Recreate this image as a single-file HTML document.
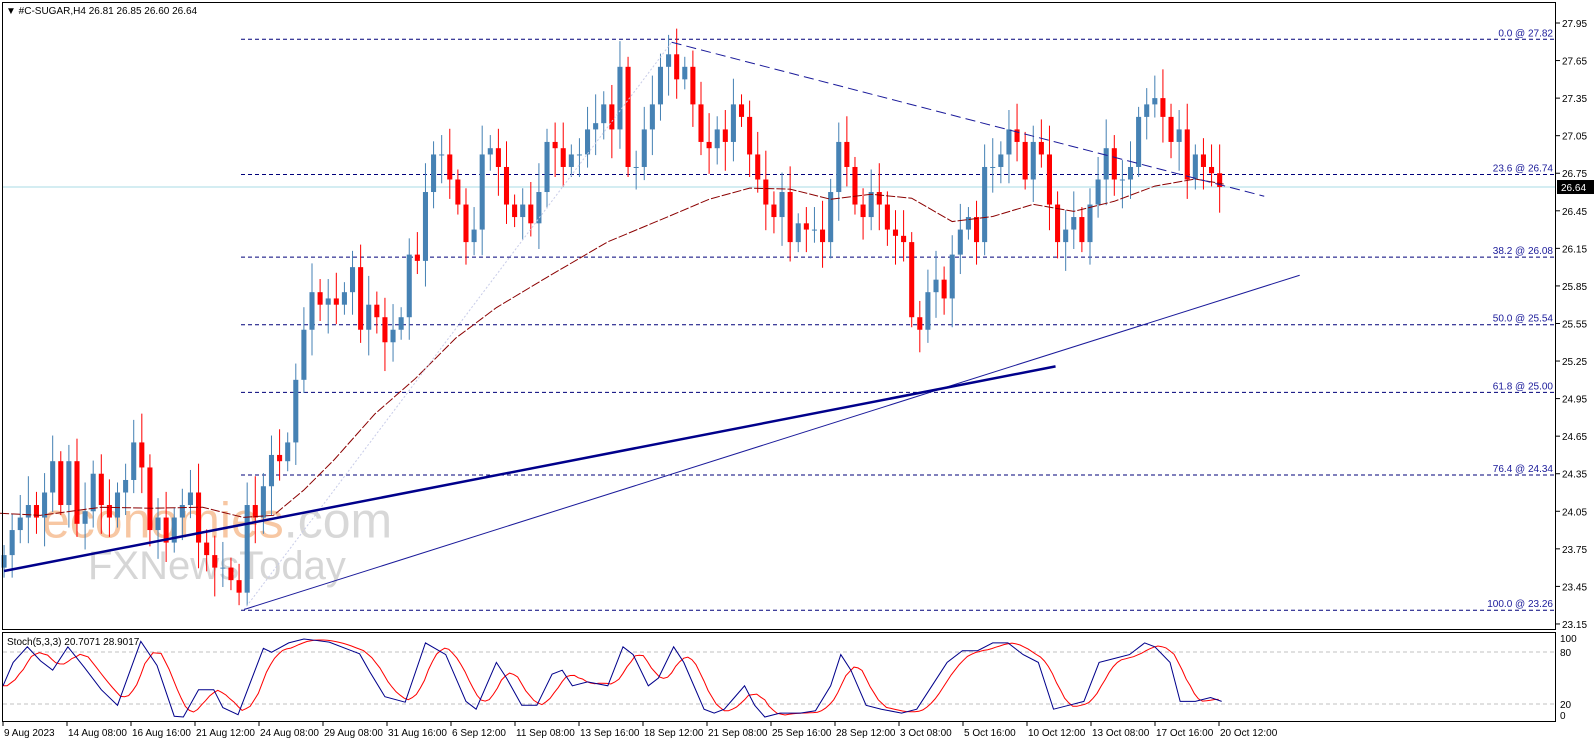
<!DOCTYPE html>
<html><head><meta charset="utf-8"><style>
html,body{margin:0;padding:0;background:#fff;}
svg{display:block;font-family:"Liberation Sans",sans-serif;}
</style></head><body>
<svg id="s" width="1596" height="743" xmlns="http://www.w3.org/2000/svg"></svg>
<script>
const S=document.getElementById('s');let h='';
const Y=p=>23+(27.95-p)*125.2;
const R=y=>23+(y-19)*1.013;
const SY=v=>717-v*0.78;
h+='<rect x="0" y="0" width="1596" height="743" fill="#fff"/>';
h+='<text x="42" y="'+R(527)+'" font-size="50" fill="#f7c29a" opacity="0.9">economies<tspan fill="#d4d4d4">.com</tspan></text>';
h+='<text x="88" y="'+R(568)+'" font-size="40" fill="#d2d2d2" opacity="0.9">FXNewsToday</text>';
const fib=[[0.0,27.82],[23.6,26.74],[38.2,26.08],[50.0,25.54],[61.8,25.00],[76.4,24.34],[100.0,23.26]];
fib.forEach(f=>{const y=Y(f[1]);h+=`<line x1="241" y1="${y}" x2="1555" y2="${y}" stroke="#00007a" stroke-dasharray="4,3" stroke-width="1"/>`;
h+=`<text x="1553" y="${y-3}" font-size="10" fill="#1a1a9a" text-anchor="end">${f[0].toFixed(1)} @ ${f[1].toFixed(2)}</text>`;});
h+=`<line x1="3" y1="${Y(26.64)}" x2="1555" y2="${Y(26.64)}" stroke="#a8dbe6" stroke-width="1"/>`;
h+='<g transform="scale(1.013,1)">';
const C=[23.7,23.9,24.0,24.1,24.0,24.2,24.45,24.1,24.45,23.95,24.05,24.35,24.1,24.0,24.2,24.3,24.6,24.4,23.9,24.0,23.8,24.0,24.1,24.2,23.8,23.7,23.6,23.6,23.5,23.4,24.1,24.0,24.25,24.5,24.45,24.6,25.1,25.5,25.8,25.7,25.75,25.7,25.8,26.0,25.5,25.7,25.6,25.4,25.5,25.6,26.1,26.05,26.6,26.9,26.9,26.7,26.5,26.2,26.3,26.9,26.95,26.8,26.5,26.4,26.5,26.35,26.6,27.0,26.95,26.8,26.9,26.9,27.1,27.15,27.3,27.1,27.6,26.8,26.8,27.1,27.3,27.6,27.7,27.5,27.6,27.3,27.0,26.95,27.1,27.0,27.3,27.2,26.9,26.7,26.5,26.4,26.6,26.2,26.35,26.3,26.3,26.2,26.6,27.0,26.8,26.5,26.4,26.6,26.5,26.3,26.25,26.2,25.6,25.5,25.8,25.9,25.75,26.1,26.3,26.4,26.2,26.8,26.8,26.9,27.1,27.0,26.7,27.0,26.9,26.5,26.2,26.3,26.4,26.2,26.5,26.7,26.95,26.7,26.7,26.8,27.2,27.3,27.35,27.2,27.0,27.1,26.7,26.9,26.8,26.75,26.64];
let prev=23.6;
C.forEach((c,i)=>{const x=4+i*8;const o=prev;const up=c>=o;const col=up?'#4682b4':'#ff0000';
const hi=Math.max(o,c)+0.08+((i*37)%7)*0.025, lo=Math.min(o,c)-0.08-((i*53)%7)*0.025;
h+=`<line x1="${x}" y1="${Y(hi)}" x2="${x}" y2="${i==29?Y(23.3):Y(lo)}" stroke="${col}" stroke-width="1"/>`;
const t=Math.min(Y(o),Y(c)),b=Math.max(Y(o),Y(c));
h+=`<rect x="${x-2.5}" y="${t}" width="5" height="${Math.max(1,b-t)}" fill="${col}"/>`;prev=c;});
const ma=[[0,503],[40,505],[100,497],[150,498],[200,497],[240,507],[270,505],[300,480],[330,450],[370,405],[410,370],[450,330],[490,300],[540,270],[600,235],[660,210],[700,193],[740,182],[780,183],[820,193],[860,188],[900,192],[940,215],[980,210],[1020,198],[1060,205],[1100,195],[1140,180],[1180,173],[1208,178]];
h+='<polyline fill="none" stroke="#8b0000" stroke-width="1" stroke-dasharray="9,2" points="'+ma.map(p=>p[0]+','+R(p[1])).join(' ')+'"/>';
h+=`<line x1="241" y1="${R(598)}" x2="663" y2="${R(38)}" stroke="#c8cce8" stroke-dasharray="2,2"/>`;
h+=`<line x1="663" y1="${R(38)}" x2="1248" y2="${R(190)}" stroke="#1a1a9a" stroke-dasharray="10,5" stroke-width="1"/>`;
h+=`<line x1="241" y1="${R(598)}" x2="1283" y2="${R(268)}" stroke="#1a1a9a" stroke-width="1"/>`;
h+=`<line x1="4" y1="${R(560)}" x2="1042" y2="${R(358)}" stroke="#00008b" stroke-width="2.5"/>`;
h+='</g>';
h+='<rect x="2.5" y="2.5" width="1553" height="627" fill="none" stroke="#000" stroke-width="1"/>';
h+='<text x="6" y="14" font-size="10" fill="#000">▼ #C-SUGAR,H4  26.81 26.85 26.60 26.64</text>';
for(let k=0;k<17;k++){const p=27.95-k*0.3;const y=Y(p);h+=`<line x1="1556" y1="${y}" x2="1560" y2="${y}" stroke="#000"/><text x="1562" y="${y+4}" font-size="10" fill="#000">${p.toFixed(2)}</text>`;}
h+=`<rect x="1557" y="${Y(26.64)-7}" width="37" height="14" fill="#000"/><text x="1561" y="${Y(26.64)+4}" font-size="10" fill="#fff">26.64</text>`;
h+=`<line x1="3" y1="652" x2="1555" y2="652" stroke="#c0c0c0" stroke-dasharray="4,3"/><line x1="3" y1="704" x2="1555" y2="704" stroke="#c0c0c0" stroke-dasharray="4,3"/>`;
const K=[[3,40],[13,70],[27,90],[40,72],[52,60],[67,90],[83,64],[100,35],[116,15],[139,97],[155,66],[172,1],[181,0],[196,35],[211,35],[220,12],[235,3],[260,88],[268,83],[285,95],[300,100],[313,98],[325,96],[345,86],[355,81],[365,58],[380,26],[400,19],[420,95],[440,80],[460,20],[470,10],[490,70],[500,50],[515,15],[530,15],[545,55],[555,60],[565,40],[580,45],[600,40],[615,90],[625,80],[640,40],[650,50],[665,90],[675,70],[695,10],[705,5],[715,10],[725,25],[735,40],[745,15],[755,0],[770,5],[790,5],[805,8],[820,40],[830,80],[840,60],[855,15],[870,10],[890,5],[905,10],[920,40],[935,70],[950,85],[965,85],[980,95],[995,95],[1010,80],[1025,70],[1040,10],[1055,15],[1070,20],[1085,70],[1100,75],[1115,80],[1130,95],[1140,90],[1155,70],[1165,20],[1180,20],[1195,25],[1206,20]];
function kAt(x){if(x<=K[0][0])return K[0][1];for(let i=1;i<K.length;i++)if(x<=K[i][0]){const a=K[i-1],b=K[i];return a[1]+(b[1]-a[1])*(x-a[0])/(b[0]-a[0]);}return K[K.length-1][1];}
let D=[];for(let x=3;x<=1206;x+=4){D.push([x,(kAt(x-4)+kAt(x-12)+kAt(x-20))/3]);}
h+='<g transform="scale(1.013,1)">';
h+='<polyline fill="none" stroke="#ff0000" stroke-width="1" points="'+D.map(p=>p[0]+','+SY(p[1]).toFixed(1)).join(' ')+'"/>';
h+='<polyline fill="none" stroke="#00008b" stroke-width="1" points="'+K.map(p=>p[0]+','+SY(p[1])).join(' ')+'"/>';
h+='</g>';
h+='<rect x="2.5" y="632.5" width="1553" height="89" fill="none" stroke="#000" stroke-width="1"/>';
h+='<text x="7" y="645" font-size="10" fill="#000">Stoch(5,3,3) 20.7071 28.9017</text>';
[['100',642],['80',656],['20',708],['0',719]].forEach(t=>{h+=`<text x="1560" y="${t[1]}" font-size="10" fill="#000">${t[0]}</text>`;});
const T=['9 Aug 2023','14 Aug 08:00','16 Aug 16:00','21 Aug 12:00','24 Aug 08:00','29 Aug 08:00','31 Aug 16:00','6 Sep 12:00','11 Sep 08:00','13 Sep 16:00','18 Sep 12:00','21 Sep 08:00','25 Sep 16:00','28 Sep 12:00','3 Oct 08:00','5 Oct 16:00','10 Oct 12:00','13 Oct 08:00','17 Oct 16:00','20 Oct 12:00'];
T.forEach((t,i)=>{const x=3+i*64;h+=`<line x1="${x}" y1="722" x2="${x}" y2="726" stroke="#000"/><text x="${x+1}" y="736" font-size="10" fill="#000">${t}</text>`;});
S.innerHTML=h;
</script>
</body></html>
